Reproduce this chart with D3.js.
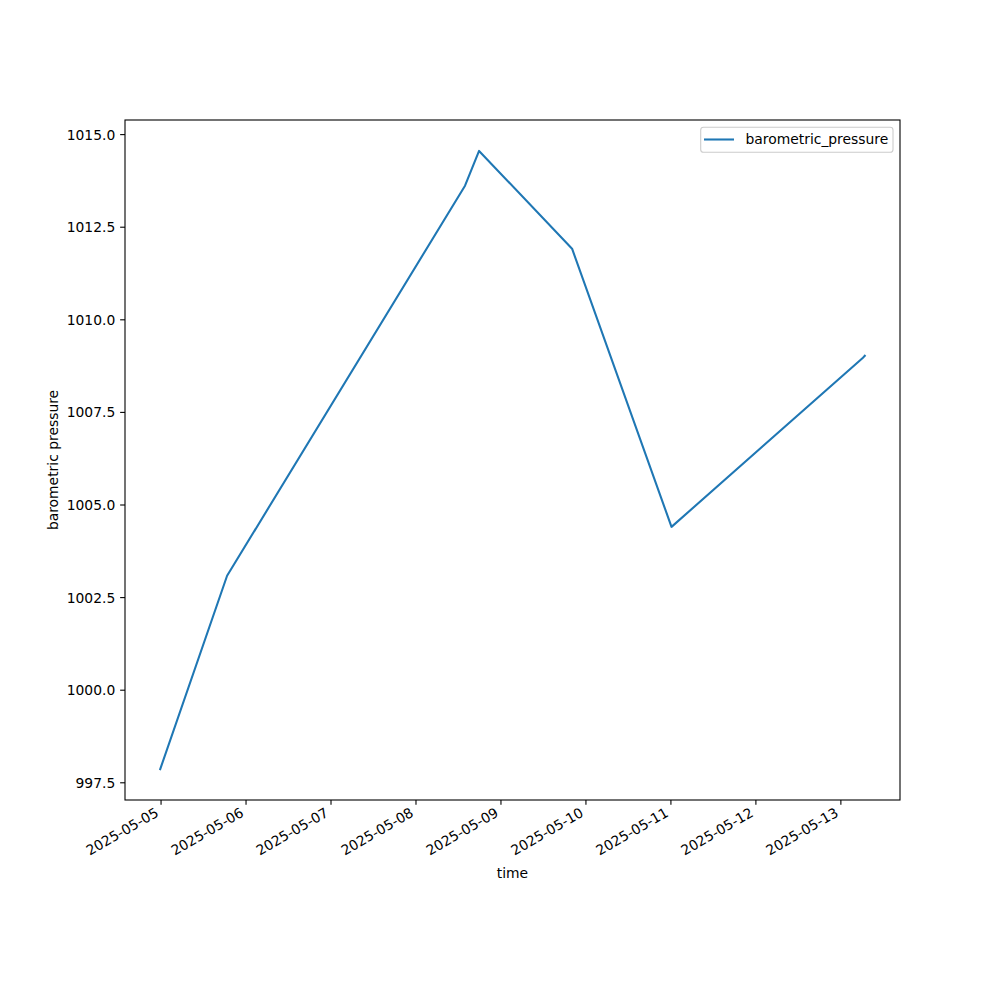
<!DOCTYPE html>
<html><head><meta charset="utf-8">
<script src="https://cdn.jsdelivr.net/npm/d3@7"></script>
<style>body{margin:0;background:#fff}svg{display:block}text{font-family:"DejaVu Sans",sans-serif}</style>
</head><body>
<svg id="c" width="1000" height="1000"></svg>
<script>
const times = ["2025-05-04T23:46","2025-05-05T18:39","2025-05-08T13:51","2025-05-08T17:49","2025-05-09T20:05","2025-05-11T00:10","2025-05-13T06:05","2025-05-13T06:45"];
const values = [997.87, 1003.09, 1013.62, 1014.56, 1011.92, 1004.41, 1008.96, 1009.03];
const yTicks = [997.5, 1000.0, 1002.5, 1005.0, 1007.5, 1010.0, 1012.5, 1015.0];
const seriesName = "barometric_pressure";
const xLabel = "time", yLabel = "barometric pressure";

const parse = d3.utcParse("%Y-%m-%dT%H:%M");
const data = times.map((t,i)=>({t:parse(t), v:values[i]}));
const L=125, R=900, T=120, B=800;
const fs = 13.89;
const svg = d3.select("#c");

const tx = d3.extent(data,d=>d.t), vy = d3.extent(data,d=>d.v);
const dx = (tx[1]-tx[0])*0.05, dy=(vy[1]-vy[0])*0.05;
const x = d3.scaleUtc().domain([new Date(+tx[0]-dx), new Date(+tx[1]+dx)]).range([L,R]);
const y = d3.scaleLinear().domain([vy[0]-dy, vy[1]+dy]).range([B,T]);

// line
svg.append("path").datum(data)
  .attr("d", d3.line().x(d=>x(d.t)).y(d=>y(d.v)))
  .attr("fill","none").attr("stroke","#1f77b4").attr("stroke-width",2.08)
  .attr("stroke-linejoin","round").attr("stroke-linecap","square");

// x axis
const xt = d3.utcDay.range(d3.utcDay.ceil(x.domain()[0]), x.domain()[1]);
const fmt = d3.utcFormat("%Y-%m-%d");
const gx = svg.append("g");
xt.forEach(d=>{
  const px = x(d);
  gx.append("line").attr("x1",px).attr("x2",px).attr("y1",B).attr("y2",B+4.86).attr("stroke","#000").attr("stroke-width",1.1);
  gx.append("text").attr("transform",`translate(${px-1.5},${B+15.5}) rotate(-30)`)
    .attr("text-anchor","end").attr("font-size",fs).attr("fill","#000").text(fmt(d));
});
// y axis
const gy = svg.append("g");
yTicks.forEach(v=>{
  const py = y(v);
  gy.append("line").attr("x1",L-4.86).attr("x2",L).attr("y1",py).attr("y2",py).attr("stroke","#000").attr("stroke-width",1.1);
  gy.append("text").attr("x",L-9.72).attr("y",py).attr("dy","0.36em").attr("text-anchor","end")
    .attr("font-size",fs).attr("fill","#000").text(d3.format(".1f")(v));
});
// frame
svg.append("rect").attr("x",L).attr("y",T).attr("width",R-L).attr("height",B-T)
  .attr("fill","none").attr("stroke","#000").attr("stroke-width",1.1);

// labels
svg.append("text").attr("x",(L+R)/2).attr("y",878).attr("text-anchor","middle").attr("font-size",fs).text(xLabel);
svg.append("text").attr("transform",`translate(57.5,${(T+B)/2}) rotate(-90)`).attr("text-anchor","middle").attr("font-size",fs).text(yLabel);

// legend
const lg = svg.append("g");
lg.append("rect").attr("x",700.7).attr("y",127.3).attr("width",192.3).attr("height",25).attr("rx",2.8)
  .attr("fill","#fff").attr("fill-opacity",0.8).attr("stroke","#cccccc").attr("stroke-width",1.1);
lg.append("line").attr("x1",704).attr("x2",734).attr("y1",139.5).attr("y2",139.5).attr("stroke","#1f77b4").attr("stroke-width",2.08);
lg.append("text").attr("x",745.5).attr("y",144.3).attr("font-size",fs).text(seriesName);
</script>
</body></html>
